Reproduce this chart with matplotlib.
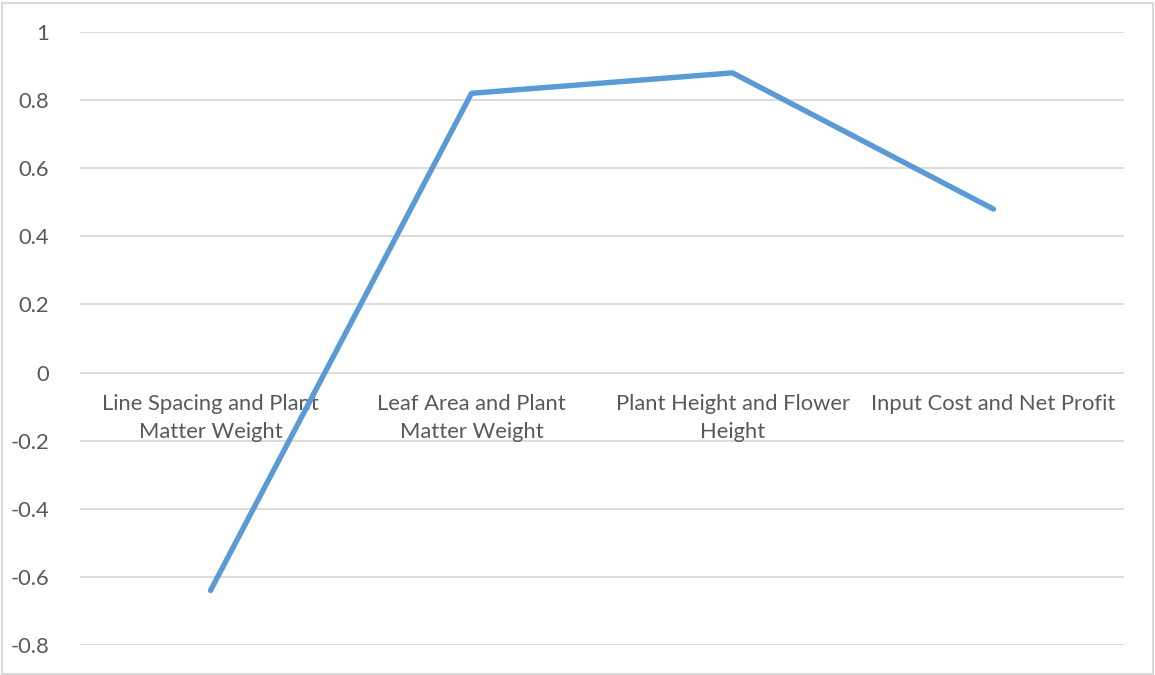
import matplotlib
matplotlib.use("Agg")
import matplotlib.pyplot as plt
from matplotlib.patches import Rectangle
import matplotlib.transforms as mtransforms

categories = [
    "Line Spacing and Plant\nMatter Weight",
    "Leaf Area and Plant\nMatter Weight",
    "Plant Height and Flower\nHeight",
    "Input Cost and Net Profit",
]
values = [-0.64, 0.82, 0.88, 0.48]
y_ticks = [-0.8, -0.6, -0.4, -0.2, 0, 0.2, 0.4, 0.6, 0.8, 1]
y_tick_labels = ["-0.8", "-0.6", "-0.4", "-0.2", "0", "0.2", "0.4", "0.6", "0.8", "1"]

plt.rcParams["font.family"] = ["Lato", "DejaVu Sans"]
text_color = "#595959"
grid_color = "#D9D9D9"
line_color = "#5B9BD5"

W, H = 1155, 675
fig = plt.figure(figsize=(W / 100, H / 100), dpi=100)
ax = fig.add_axes([80 / W, (H - 645) / H, (1124 - 80) / W, (645 - 32) / H])

x = list(range(len(categories)))
ax.plot(x, values, color=line_color, linewidth=3.9, solid_capstyle="round",
        solid_joinstyle="round", zorder=3)

ax.set_xlim(-0.5, len(categories) - 0.5)
ax.set_ylim(-0.8, 1)
ax.set_yticks(y_ticks)
ax.set_yticklabels(y_tick_labels)
ax.tick_params(axis="y", length=0, pad=22, labelsize=15.8, labelcolor=text_color)
ax.set_xticks([])
for yt in y_ticks:
    ax.axhline(yt, color=grid_color, linewidth=1.3, zorder=1)
for s in ax.spines.values():
    s.set_visible(False)

# category labels sit just under the zero line
offset = mtransforms.offset_copy(ax.transData, fig=fig, x=0, y=-15.5, units="points")
for xi, lab in zip(x, categories):
    ax.text(xi, 0, lab, transform=offset, ha="center", va="top",
            fontsize=15.8, color=text_color, linespacing=1.5, zorder=2)

# chart-area frame
fig.patches.append(Rectangle((1.5 / W, 1.5 / H), (W - 4) / W, (H - 4) / H,
                             transform=fig.transFigure, fill=False,
                             edgecolor=grid_color, linewidth=1.5))

fig.savefig("out.png", dpi=100, facecolor="white")
